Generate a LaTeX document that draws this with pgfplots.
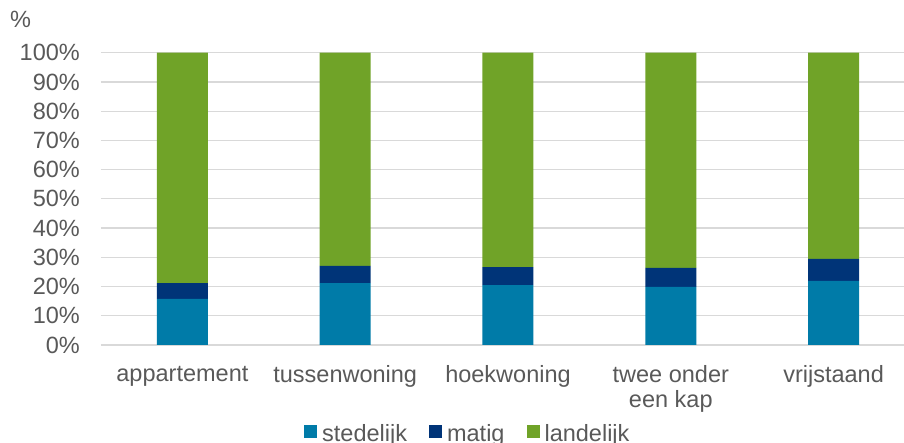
\documentclass[border=0pt]{standalone}
\usepackage{pgfplots}
\pgfplotsset{compat=1.18}
\usepackage{fontspec}
\setmainfont{Liberation Sans}

\definecolor{stedelijk}{HTML}{007BA8}
\definecolor{matig}{HTML}{003478}
\definecolor{landelijk}{HTML}{70A328}
\definecolor{textgray}{HTML}{595959}
\definecolor{gridgray}{HTML}{D9D9D9}

\newcommand{\chartfont}{\fontsize{23.5}{24}\selectfont}

\begin{document}
\begin{tikzpicture}
\begin{axis}[
  scale only axis,
  width=803pt, height=292.3pt,
  ybar stacked,
  bar width=51pt,
  xmin=-0.5, xmax=4.4325,
  ymin=0, ymax=100,
  xtick=data,
  xticklabels={appartement, tussenwoning, hoekwoning, {twee onder\\een kap}, vrijstaand},
  ytick={0,10,...,100},
  yticklabel={\pgfmathprintnumber[assume math mode=true]{\tick}\%},
  axis line style={draw=none},
  major tick length=0pt,
  ymajorgrids,
  grid style={gridgray, line width=1.3pt},
  typeset ticklabels with strut,
  every tick label/.append style={font=\chartfont, text=textgray},
  xticklabel style={anchor=north, inner sep=0pt, yshift=-19.9pt, align=center},
  yticklabel style={anchor=east, inner sep=0pt, xshift=-21pt},
  ylabel={\%},
  every axis y label/.style={at={(axis description cs:-0.1133,1.0845)}, anchor=base west,
    inner sep=0pt, font=\chartfont, text=textgray, rotate=0},
  legend columns=3,
  legend image code/.code={\fill[#1] (0pt,-4.5pt) rectangle (13pt,8.5pt);},
  legend style={draw=none, fill=none, inner sep=0pt, font=\chartfont, text=textgray,
    at={(0.2528,-0.302)}, anchor=west,
    nodes={inner sep=0pt},
    /tikz/every odd column/.append style={column sep=5pt},
    /tikz/every even column/.append style={column sep=22pt}},
]
\addplot[fill=stedelijk, draw=none] coordinates {(0,15.8) (1,21.2) (2,20.5) (3,19.9) (4,21.9)};
\addplot[fill=matig, draw=none] coordinates {(0,5.4) (1,5.9) (2,6.1) (3,6.5) (4,7.6)};
\addplot[fill=landelijk, draw=none] coordinates {(0,78.8) (1,72.9) (2,73.4) (3,73.6) (4,70.5)};
\legend{stedelijk, matig, landelijk}
\end{axis}
\pgfresetboundingbox
\path (-101pt,-98pt) rectangle (803pt,345pt);
\end{tikzpicture}
\end{document}
